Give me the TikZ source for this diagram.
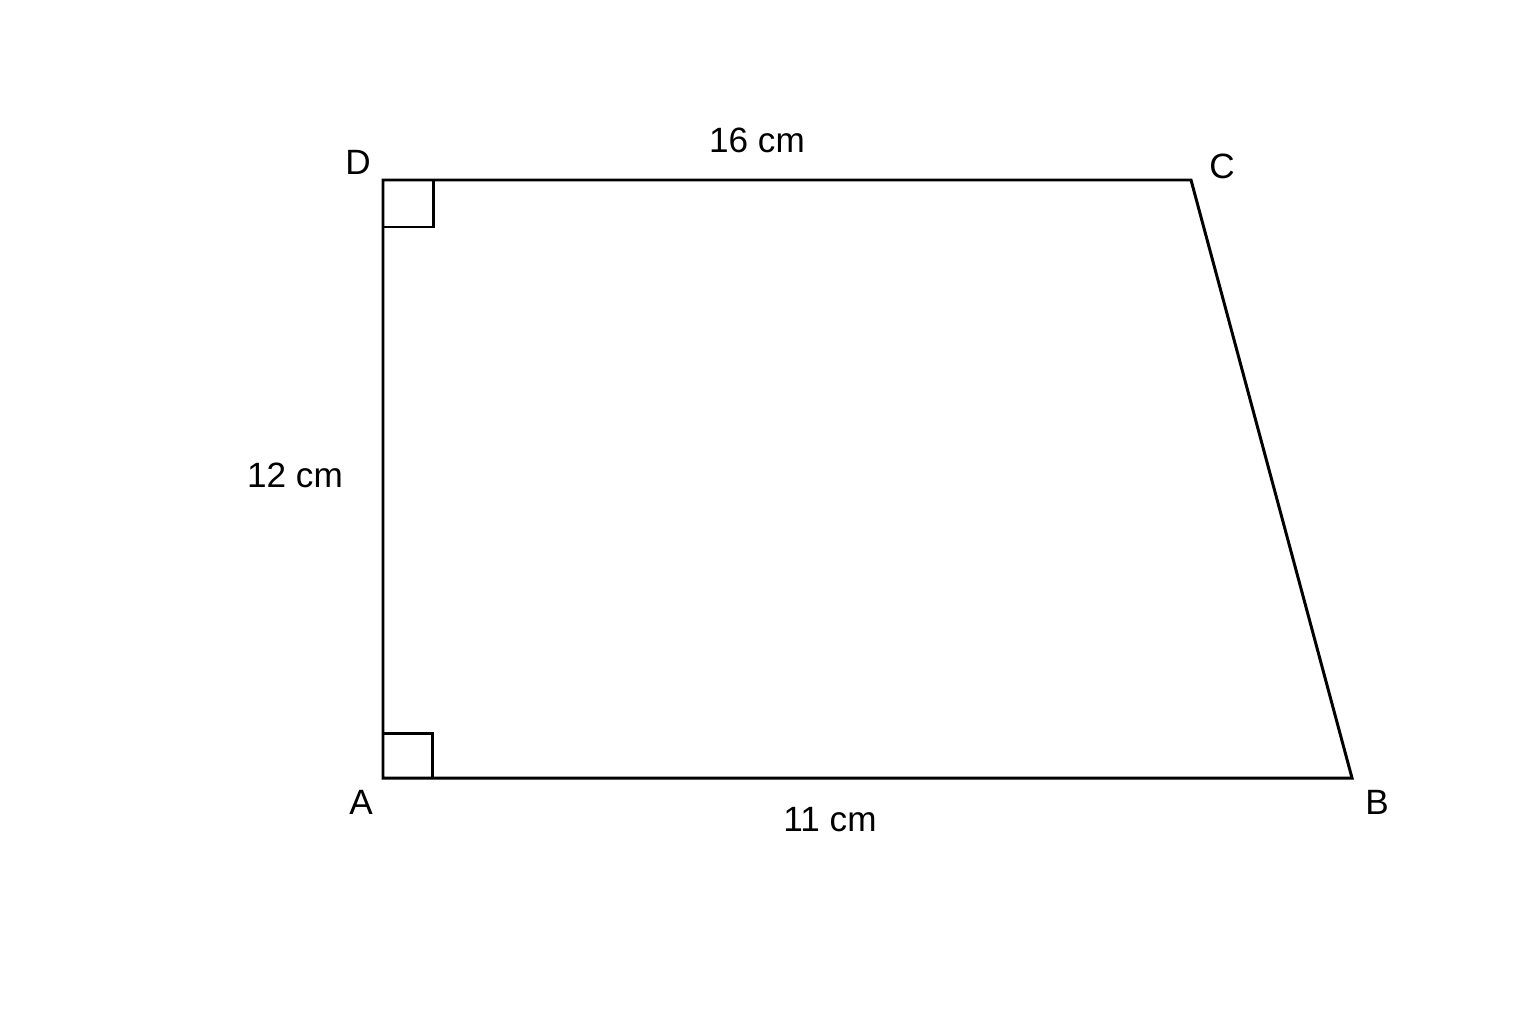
\documentclass[tikz,border=0pt]{standalone}
\usepackage{fontspec}
\setmainfont{Liberation Sans}

\begin{document}
\begin{tikzpicture}[every node/.style={font=\fontsize{10}{12}\selectfont,inner sep=0pt},
    edge/.style={line width=0.85pt,line join=miter}]
      \useasboundingbox (0,0) rectangle (15.36,10.24);
      \coordinate (A) at (3.83,2.46);
      \coordinate (B) at (13.52,2.46);
      \coordinate (C) at (11.91,8.44);
      \coordinate (D) at (3.83,8.44);
      \draw[edge] (A) -- (B) -- (C) -- (D) -- cycle;
      \draw[edge] ([yshift=0.45cm]A) -| ([xshift=0.49cm]A);
      \draw[edge] ([yshift=-0.47cm]D) -| ([xshift=0.50cm]D);
      \draw
        (3.61,2.22) node (labA) {A}
        (13.77,2.22) node (labB) {B}
        (12.22,8.58) node (labC) {C}
        (3.58,8.62) node (labD) {D};
      \draw
        (7.57,8.84) node (top) {16 cm}
        (2.95,5.49) node (left) {12 cm}
        (8.30,2.04) node (bottom) {11 cm};
    \end{tikzpicture}
\end{document}
